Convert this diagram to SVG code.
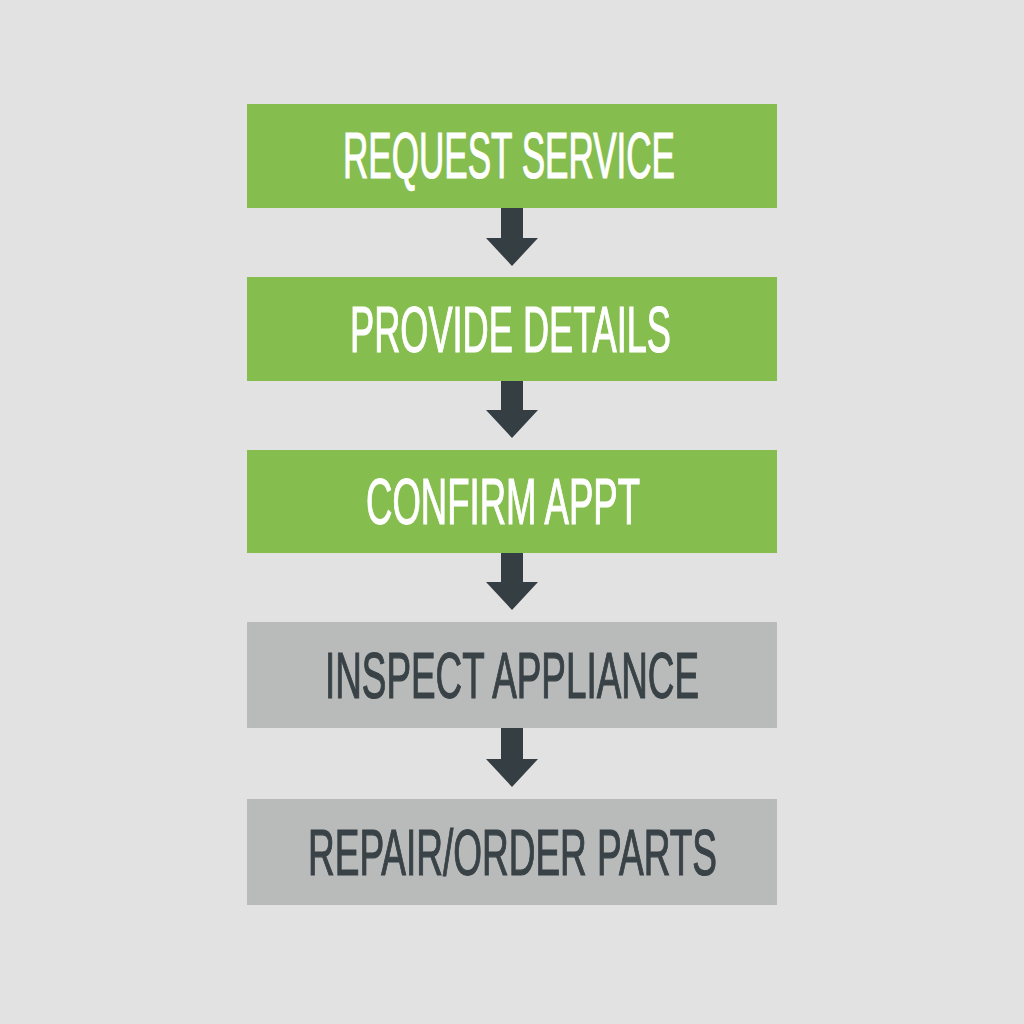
<svg xmlns="http://www.w3.org/2000/svg" width="1024" height="1024" viewBox="0 0 1024 1024">
<style>
.green{fill:#86BD4F}
.gray{fill:#B9BABA}
.lbl{font-family:"Liberation Sans",Arial,sans-serif;font-size:64px;text-anchor:start;stroke-width:1.2px}
.lg{fill:#FFFFFF;stroke:#FFFFFF}
.ld{fill:#394246;stroke:#394246}
.arr{fill:#343E43}
</style>
<rect x="0" y="0" width="1024" height="1024" fill="#E2E2E2"/>
<g id="connectors">
<path class="arr" d="M501 208 H523 V238 H538 L512 266 L486 238 H501 Z"/>
<path class="arr" d="M501 381 H523 V410 H538 L512 438 L486 410 H501 Z"/>
<path class="arr" d="M501 553 H523 V582 H538 L512 610 L486 582 H501 Z"/>
<path class="arr" d="M501 728 H523 V759 H538 L512 787 L486 759 H501 Z"/>
</g>
<g id="n1">
<rect class="green" x="247" y="104" width="530" height="104"/>
<text class="lbl lg" x="343" y="178" textLength="332" lengthAdjust="spacingAndGlyphs">REQUEST SERVICE</text>
</g>
<g id="n2">
<rect class="green" x="247" y="277" width="530" height="104"/>
<text class="lbl lg" x="350" y="352" textLength="321" lengthAdjust="spacingAndGlyphs">PROVIDE DETAILS</text>
</g>
<g id="n3">
<rect class="green" x="247" y="450" width="530" height="103"/>
<text class="lbl lg" x="366" y="524" textLength="274" lengthAdjust="spacingAndGlyphs">CONFIRM APPT</text>
</g>
<g id="n4">
<rect class="gray" x="247" y="622" width="530" height="106"/>
<text class="lbl ld" x="325" y="698" textLength="374" lengthAdjust="spacingAndGlyphs">INSPECT APPLIANCE</text>
</g>
<g id="n5">
<rect class="gray" x="247" y="799" width="530" height="106"/>
<text class="lbl ld" x="308" y="875" textLength="409" lengthAdjust="spacingAndGlyphs">REPAIR/ORDER PARTS</text>
</g>
</svg>
